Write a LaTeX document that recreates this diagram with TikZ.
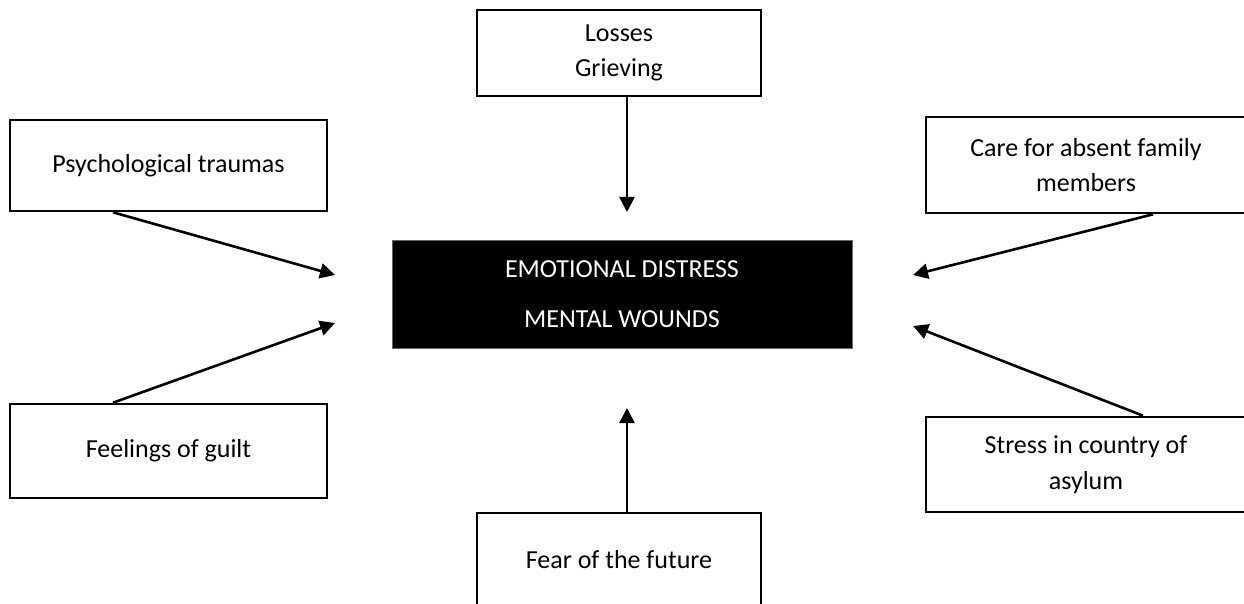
\documentclass[tikz,border=0pt]{standalone}
\usepackage{fontspec}
\setmainfont{Carlito}
\usetikzlibrary{arrows.meta}
\begin{document}
\begin{tikzpicture}[x=1pt,y=-1pt,
  cause/.style={draw=black,line width=2.6pt,fill=white,inner sep=0pt,align=center,
    font=\fontsize{26}{35.5}\selectfont,text=black},
  core/.style={draw=black!60,line width=0.8pt,fill=black,inner sep=0pt,align=center,
    font=\fontsize{26}{32}\selectfont,text=white},
  arr/.style={line width=2.6pt,-{Triangle[length=15pt,width=15pt]}}]
\clip (0,0) rectangle (1244,604);
\fill[white] (0,0) rectangle (1244,604);
% boxes
\node[cause,minimum width=284,minimum height=86] (loss) at (619,53) {Losses\\Grieving};
\node[cause,minimum width=317,minimum height=91] (psych) at (168.5,165.5) {Psychological traumas};
\node[cause,minimum width=320,minimum height=96] (care) at (1086,165) {Care for absent family\\members};
\node[cause,minimum width=317,minimum height=94] (guilt) at (168.5,451) {Feelings of guilt};
\node[cause,minimum width=320,minimum height=95] (stress) at (1086,464.5) {Stress in country of\\asylum};
\node[cause,minimum width=284,minimum height=94] (fear) at (619,560) {Fear of the future};
\node[core,minimum width=460,minimum height=108] (core) at (622,294) {EMOTIONAL DISTRESS\\[18pt]MENTAL WOUNDS};
% arrow tips
\coordinate (tTop) at (627,212);
\coordinate (tPsych) at (335,275);
\coordinate (tGuilt) at (335,323);
\coordinate (tCare) at (913,275);
\coordinate (tStress) at (913,326);
\coordinate (tFear) at (627,408);
% arrows
\draw[arr] ([xshift=8pt]loss.south) -- (tTop);
\draw[arr] ([xshift=-55.5pt]psych.south) -- (tPsych);
\draw[arr] ([xshift=-55.5pt]guilt.north) -- (tGuilt);
\draw[arr] ([xshift=67pt]care.south) -- (tCare);
\draw[arr] ([xshift=57pt]stress.north) -- (tStress);
\draw[arr] ([xshift=8pt]fear.north) -- (tFear);
\end{tikzpicture}
\end{document}
